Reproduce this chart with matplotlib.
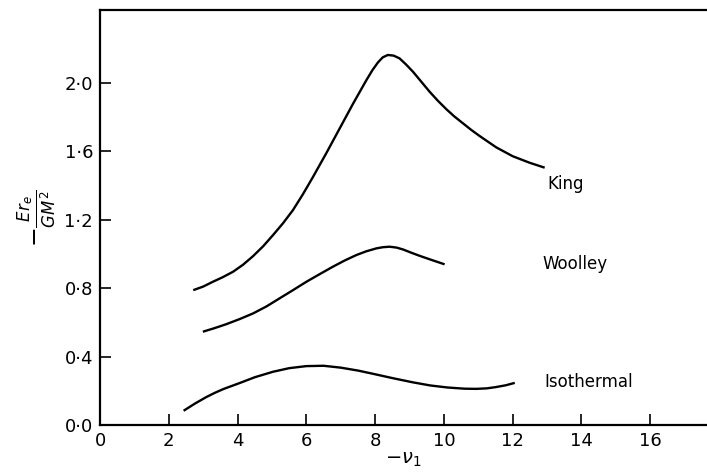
import numpy as np
import matplotlib
matplotlib.use("Agg")
import matplotlib.pyplot as plt
from matplotlib.ticker import FuncFormatter

# values
king_x = [2.71, 3.0, 3.28, 3.57, 3.87, 4.16, 4.45, 4.74, 5.03, 5.32, 5.61, 5.9, 6.19, 6.58,
          6.97, 7.36, 7.74, 7.92, 8.08, 8.22, 8.37, 8.54, 8.71, 8.9, 9.1, 9.34, 9.58,
          9.83, 10.07, 10.3, 10.55, 10.8, 11.04, 11.52, 12.0, 12.49, 12.93]
king_y = [0.789, 0.81, 0.838, 0.865, 0.897, 0.938, 0.988, 1.045, 1.111, 1.18, 1.257, 1.35, 1.45, 1.59,
          1.735, 1.88, 2.015, 2.075, 2.12, 2.15, 2.164, 2.16, 2.144, 2.108, 2.066, 2.008, 1.95,
          1.895, 1.847, 1.805, 1.765, 1.725, 1.69, 1.624, 1.572, 1.534, 1.505]

woolley_x = [2.99, 3.33, 3.67, 4.06, 4.45, 4.84, 5.22, 5.61, 6.0, 6.39, 6.77, 7.11, 7.45,
             7.74, 8.03, 8.22, 8.42, 8.62, 8.81, 9.05, 9.29, 9.65, 10.02]
woolley_y = [0.546, 0.567, 0.59, 0.62, 0.653, 0.694, 0.741, 0.789, 0.838, 0.883, 0.926, 0.962, 0.994,
             1.016, 1.033, 1.04, 1.043, 1.038, 1.027, 1.008, 0.99, 0.965, 0.94]

iso_x = [2.43, 2.76, 3.09, 3.35, 3.6, 4.06, 4.5, 5.03, 5.5, 6.0, 6.5, 7.0, 7.5, 7.94, 8.5, 9.1,
         9.6, 10.1, 10.6, 10.94, 11.25, 11.5, 11.8, 12.06]
iso_y = [0.084, 0.126, 0.164, 0.19, 0.212, 0.246, 0.28, 0.312, 0.333, 0.345, 0.347, 0.336, 0.319, 0.30, 0.275, 0.25,
         0.232, 0.22, 0.213, 0.212, 0.215, 0.222, 0.233, 0.247]

labels = ["King", "Woolley", "Isothermal"]
label_pos = [(13.0, 1.41), (12.87, 0.94), (12.93, 0.25)]

x_ticks = [0, 2, 4, 6, 8, 10, 12, 14, 16]
y_ticks = [0.0, 0.4, 0.8, 1.2, 1.6, 2.0]

fig = plt.figure(figsize=(7.07, 4.75), dpi=100)
ax = fig.add_axes([0.1415, 0.105, 0.8585, 0.874])

for xs, ys in [(king_x, king_y), (woolley_x, woolley_y), (iso_x, iso_y)]:
    ax.plot(xs, ys, color="black", lw=1.7, solid_capstyle="butt", solid_joinstyle="round")

for name, (tx, ty) in zip(labels, label_pos):
    ax.text(tx, ty, name, fontsize=12, va="center", ha="left")

ax.set_xlim(0, 17.65)
ax.set_ylim(0, 2.427)
ax.set_xticks(x_ticks)
ax.set_yticks(y_ticks)
ax.yaxis.set_major_formatter(FuncFormatter(lambda v, p: f"{v:.1f}".replace(".", "\u00b7")))
ax.tick_params(direction="in", length=8, width=1.2, labelsize=13, pad=5)

ax.spines["right"].set_visible(False)
for s in ["left", "bottom", "top"]:
    ax.spines[s].set_linewidth(1.6)

ax.set_xlabel(r"$-\nu_1$", fontsize=14, labelpad=0)
ax.set_ylabel(r"$-\frac{Er_e}{GM^2}$", fontsize=17, labelpad=4)

fig.savefig("out.png", dpi=100)
